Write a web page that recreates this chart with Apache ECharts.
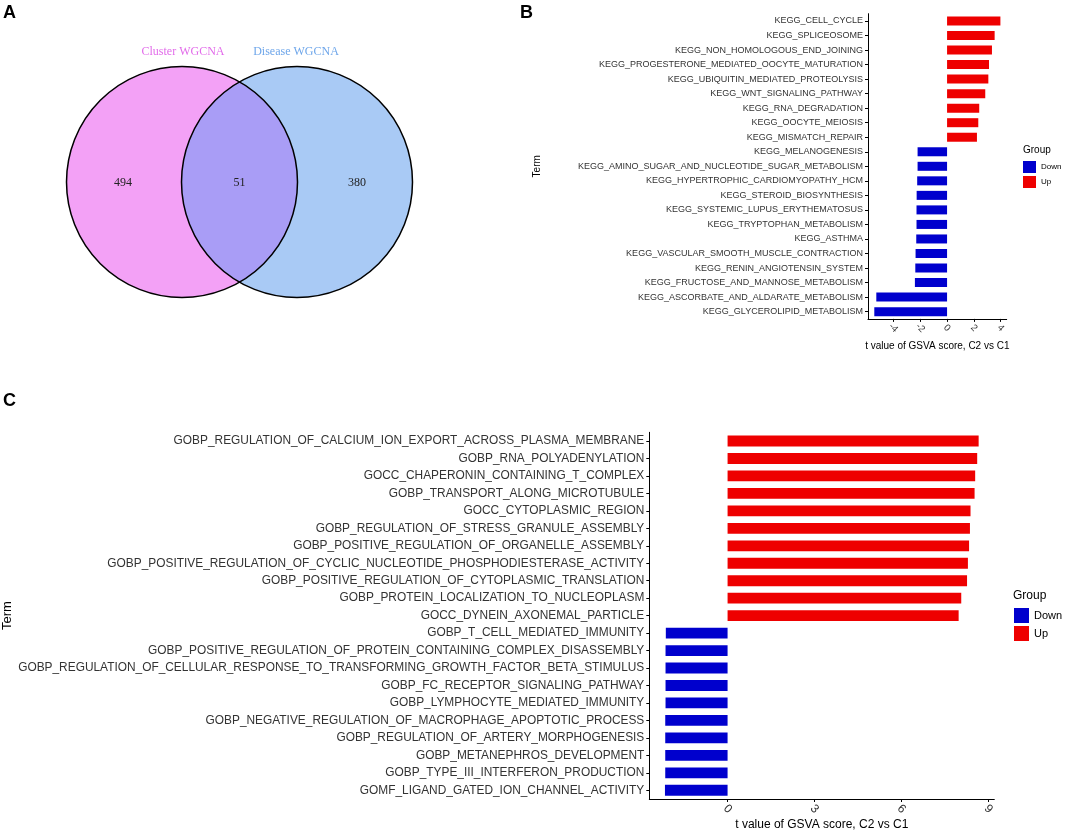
<!DOCTYPE html>
<html>
<head>
<meta charset="utf-8">
<script src="https://cdn.jsdelivr.net/npm/echarts@6/dist/echarts.min.js"></script>
<style>
html,body{margin:0;padding:0;background:#fff;}
#main{width:1065px;height:832px;}
</style>
</head>
<body>
<div id="main"></div>
<script>
// ---------- DATA ----------
const vennSetNames = ['Cluster WGCNA', 'Disease WGCNA'];
const vennCounts = [494, 51, 380]; // only left, overlap, only right

const termsB = [
  'KEGG_CELL_CYCLE','KEGG_SPLICEOSOME','KEGG_NON_HOMOLOGOUS_END_JOINING',
  'KEGG_PROGESTERONE_MEDIATED_OOCYTE_MATURATION','KEGG_UBIQUITIN_MEDIATED_PROTEOLYSIS',
  'KEGG_WNT_SIGNALING_PATHWAY','KEGG_RNA_DEGRADATION','KEGG_OOCYTE_MEIOSIS',
  'KEGG_MISMATCH_REPAIR','KEGG_MELANOGENESIS','KEGG_AMINO_SUGAR_AND_NUCLEOTIDE_SUGAR_METABOLISM',
  'KEGG_HYPERTROPHIC_CARDIOMYOPATHY_HCM','KEGG_STEROID_BIOSYNTHESIS',
  'KEGG_SYSTEMIC_LUPUS_ERYTHEMATOSUS','KEGG_TRYPTOPHAN_METABOLISM','KEGG_ASTHMA',
  'KEGG_VASCULAR_SMOOTH_MUSCLE_CONTRACTION','KEGG_RENIN_ANGIOTENSIN_SYSTEM',
  'KEGG_FRUCTOSE_AND_MANNOSE_METABOLISM','KEGG_ASCORBATE_AND_ALDARATE_METABOLISM',
  'KEGG_GLYCEROLIPID_METABOLISM'
];
const valuesB = [3.98, 3.55, 3.35, 3.13, 3.08, 2.85, 2.40, 2.33, 2.23,
  -2.20, -2.20, -2.23, -2.27, -2.28, -2.28, -2.30, -2.35, -2.37, -2.40, -5.28, -5.43];
const ticksB = [-4, -2, 0, 2, 4];

const termsC = [
  'GOBP_REGULATION_OF_CALCIUM_ION_EXPORT_ACROSS_PLASMA_MEMBRANE',
  'GOBP_RNA_POLYADENYLATION',
  'GOCC_CHAPERONIN_CONTAINING_T_COMPLEX',
  'GOBP_TRANSPORT_ALONG_MICROTUBULE',
  'GOCC_CYTOPLASMIC_REGION',
  'GOBP_REGULATION_OF_STRESS_GRANULE_ASSEMBLY',
  'GOBP_POSITIVE_REGULATION_OF_ORGANELLE_ASSEMBLY',
  'GOBP_POSITIVE_REGULATION_OF_CYCLIC_NUCLEOTIDE_PHOSPHODIESTERASE_ACTIVITY',
  'GOBP_POSITIVE_REGULATION_OF_CYTOPLASMIC_TRANSLATION',
  'GOBP_PROTEIN_LOCALIZATION_TO_NUCLEOPLASM',
  'GOCC_DYNEIN_AXONEMAL_PARTICLE',
  'GOBP_T_CELL_MEDIATED_IMMUNITY',
  'GOBP_POSITIVE_REGULATION_OF_PROTEIN_CONTAINING_COMPLEX_DISASSEMBLY',
  'GOBP_REGULATION_OF_CELLULAR_RESPONSE_TO_TRANSFORMING_GROWTH_FACTOR_BETA_STIMULUS',
  'GOBP_FC_RECEPTOR_SIGNALING_PATHWAY',
  'GOBP_LYMPHOCYTE_MEDIATED_IMMUNITY',
  'GOBP_NEGATIVE_REGULATION_OF_MACROPHAGE_APOPTOTIC_PROCESS',
  'GOBP_REGULATION_OF_ARTERY_MORPHOGENESIS',
  'GOBP_METANEPHROS_DEVELOPMENT',
  'GOBP_TYPE_III_INTERFERON_PRODUCTION',
  'GOMF_LIGAND_GATED_ION_CHANNEL_ACTIVITY'
];
const valuesC = [8.66, 8.61, 8.54, 8.52, 8.38, 8.36, 8.33, 8.29, 8.26, 8.06, 7.97,
  -2.13, -2.14, -2.14, -2.14, -2.14, -2.15, -2.15, -2.15, -2.15, -2.16];
const ticksC = [0, 3, 6, 9];

const groups = ['Down', 'Up'];
const xTitle = 't value of GSVA score, C2 vs C1';
const yTitle = 'Term';

// ---------- STYLE ----------
const colDown = '#0000CD';
const colUp = '#EE0000';
const axisCol = '#000';
const textCol = '#333';
const sans = 'Liberation Sans, Arial, sans-serif';
const serif = 'Liberation Serif, Times New Roman, serif';

function splitBy(vals, up) { return vals.map(v => (up ? (v > 0 ? v : '-') : (v < 0 ? v : '-'))); }

function xAxisCfg(gridIndex, min, max, ticks, fs, nfs, gap, margin) {
  return {
    type: 'value', gridIndex, min, max,
    name: xTitle, nameLocation: 'middle', nameGap: gap,
    nameTextStyle: { fontFamily: sans, fontSize: nfs, color: '#000' },
    splitLine: { show: false },
    axisLine: { show: true, onZero: false, lineStyle: { color: axisCol, width: 1 } },
    axisTick: { show: true, length: 3, customValues: ticks, lineStyle: { color: axisCol } },
    axisLabel: { customValues: ticks, rotate: -45, align: 'center', verticalAlign: 'middle',
      fontFamily: sans, fontSize: fs, color: textCol, margin }
  };
}
function yAxisCfg(gridIndex, terms, fs, nfs, gap) {
  return {
    type: 'category', gridIndex, data: terms, inverse: true,
    name: yTitle, nameLocation: 'middle', nameGap: gap, nameRotate: 90,
    nameTextStyle: { fontFamily: sans, fontSize: nfs, color: '#000' },
    axisLine: { show: true, onZero: false, lineStyle: { color: axisCol, width: 1 } },
    axisTick: { show: true, length: 3, alignWithLabel: true, lineStyle: { color: axisCol } },
    axisLabel: { fontFamily: sans, fontSize: fs, color: textCol, margin: 5 }
  };
}
function barSeries(name, xi, data, color, stack) {
  return {
    type: 'bar', name, xAxisIndex: xi, yAxisIndex: xi, data, stack,
    barWidth: '62%', itemStyle: { color }, emphasis: { disabled: true },
    silent: true, animation: false
  };
}

// Venn geometry (layout)
const vc1 = [182, 182], vc2 = [297, 182], vr = 115.5;
const dHalf = (vc2[0] - vc1[0]) / 2;
const halfAng = Math.acos(dHalf / vr);
const lensPts = [];
const N = 60;
for (let i = 0; i <= N; i++) { // arc of left circle (right side)
  const a = -halfAng + (2 * halfAng) * i / N;
  lensPts.push([vc1[0] + vr * Math.cos(a), vc1[1] + vr * Math.sin(a)]);
}
for (let i = 0; i <= N; i++) { // arc of right circle (left side)
  const a = Math.PI - halfAng + (2 * halfAng) * i / N;
  lensPts.push([vc2[0] + vr * Math.cos(a), vc2[1] + vr * Math.sin(a)]);
}

const chart = echarts.init(document.getElementById('main'), null, { renderer: 'canvas' });
chart.setOption({
  backgroundColor: '#fff',
  animation: false,
  grid: [
    { left: 868, right: 58.3, top: 13.7, height: 305.2, containLabel: false, outerBoundsMode: 'none' },
    { left: 649.3, right: 70.7, top: 432.3, height: 366.7, containLabel: false, outerBoundsMode: 'none' }
  ],
  xAxis: [
    xAxisCfg(0, -5.9, 4.45, ticksB, 9.5, 10, 22, 9),
    xAxisCfg(1, -2.7, 9.2, ticksC, 12, 12, 20, 10)
  ],
  yAxis: [
    yAxisCfg(0, termsB, 9, 10, 326),
    yAxisCfg(1, termsC, 11.9, 13, 624)
  ],
  legend: [
    { data: groups, orient: 'vertical', left: 1023, top: 161, padding: 0, itemWidth: 13, itemHeight: 12, itemGap: 3,
      icon: 'rect', selectedMode: false, textStyle: { fontFamily: sans, fontSize: 8, color: '#000' } },
    { data: groups, orient: 'vertical', left: 1014, top: 608, padding: 0, itemWidth: 15, itemHeight: 15, itemGap: 3,
      icon: 'rect', selectedMode: false, textStyle: { fontFamily: sans, fontSize: 11, color: '#000' } }
  ],
  series: [
    barSeries('Down', 0, splitBy(valuesB, false), colDown, 'b'),
    barSeries('Up', 0, splitBy(valuesB, true), colUp, 'b'),
    barSeries('Down', 1, splitBy(valuesC, false), colDown, 'c'),
    barSeries('Up', 1, splitBy(valuesC, true), colUp, 'c')
  ],
  graphic: [
    // panel letters
    { type: 'text', x: 3, y: 4, style: { text: 'A', font: 'bold 18px ' + sans, fill: '#000' } },
    { type: 'text', x: 520, y: 4, style: { text: 'B', font: 'bold 18px ' + sans, fill: '#000' } },
    { type: 'text', x: 3, y: 392, style: { text: 'C', font: 'bold 18px ' + sans, fill: '#000' } },
    // legend titles
    { type: 'text', x: 1023, y: 150, style: { text: 'Group', font: '10px ' + sans, fill: '#000', verticalAlign: 'middle' } },
    { type: 'text', x: 1013, y: 596, style: { text: 'Group', font: '12px ' + sans, fill: '#000', verticalAlign: 'middle' } },
    // Venn
    { type: 'circle', shape: { cx: vc1[0], cy: vc1[1], r: vr }, style: { fill: '#F3A1F6' }, z: 1 },
    { type: 'circle', shape: { cx: vc2[0], cy: vc2[1], r: vr }, style: { fill: '#A9CAF5' }, z: 1 },
    { type: 'polygon', shape: { points: lensPts }, style: { fill: '#A99DF6' }, z: 2 },
    { type: 'circle', shape: { cx: vc1[0], cy: vc1[1], r: vr }, style: { fill: 'none', stroke: '#000', lineWidth: 1.5 }, z: 3 },
    { type: 'circle', shape: { cx: vc2[0], cy: vc2[1], r: vr }, style: { fill: 'none', stroke: '#000', lineWidth: 1.5 }, z: 3 },
    { type: 'text', x: 183, y: 52, z: 4, style: { text: vennSetNames[0], font: '12px ' + serif, fill: '#E26BEA', align: 'center', verticalAlign: 'middle' } },
    { type: 'text', x: 296, y: 52, z: 4, style: { text: vennSetNames[1], font: '12px ' + serif, fill: '#6EA6EA', align: 'center', verticalAlign: 'middle' } },
    { type: 'text', x: 123, y: 183, z: 4, style: { text: String(vennCounts[0]), font: '12px ' + serif, fill: '#222', align: 'center', verticalAlign: 'middle' } },
    { type: 'text', x: 239.5, y: 183, z: 4, style: { text: String(vennCounts[1]), font: '12px ' + serif, fill: '#222', align: 'center', verticalAlign: 'middle' } },
    { type: 'text', x: 357, y: 183, z: 4, style: { text: String(vennCounts[2]), font: '12px ' + serif, fill: '#222', align: 'center', verticalAlign: 'middle' } }
  ]
});
</script>
</body>
</html>
